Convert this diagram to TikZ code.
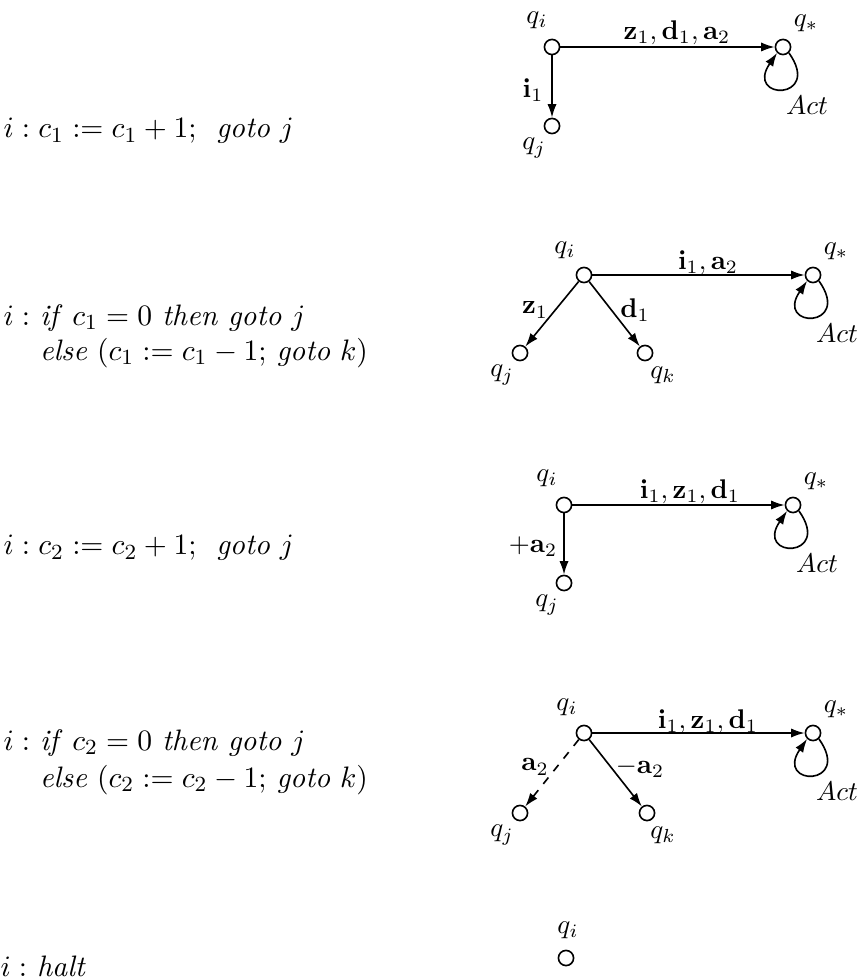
\documentclass[tikz,border=0pt]{standalone}
\usepackage{amsmath}
\usetikzlibrary{arrows.meta}
\begin{document}
\begin{tikzpicture}[x=0.37pt,y=-0.37pt,
  st/.style={circle,draw,line width=0.6pt,minimum size=5.6pt,inner sep=0pt},
  lab/.style={inner sep=0pt},
  tr/.style={line width=0.6pt,-{Latex[length=5pt,width=3.4pt]}},
  txt/.style={inner sep=0pt,anchor=west,font=\fontsize{10.95}{13.6}\selectfont}
]
\useasboundingbox (0,0) rectangle (860,978);

% ---------- row 1 ----------
\node[txt] (t1) at (3,131) {$i : c_1 := c_1 + 1;$~~\textit{goto}~$j$};
\node[st] (a1) at (552,47) {};
\node[st] (b1) at (552,126) {};
\node[st] (s1) at (783,47) {};
\node[lab] (la1) at (537,20) {$q_i$};
\node[lab] (lb1) at (534,148) {$q_j$};
\node[lab] (ls1) at (806,23) {$q_*$};
\node[lab] (act1) at (807,105) {$Act$};
\node[lab] (e1a) at (677,33) {$\mathbf{z}_1, \mathbf{d}_1, \mathbf{a}_2$};
\node[lab] (e1b) at (533,90) {$\mathbf{i}_1$};
\draw[tr] (a1) -- (s1);
\draw[tr] (a1) -- (b1);
\draw[tr] (s1.-45) .. controls +(34,48) and +(-33,48) .. (s1.-135);

% ---------- row 2 ----------
\node[txt] (t2a) at (3,318) {$i :$ \textit{if} $c_1 = 0$ \textit{then} \textit{goto} $j$};
\node[txt] (t2b) at (3,353) {\phantom{$i :$ }\textit{else} $(c_1 := c_1 - 1;$ \textit{goto} $k)$};
\node[st] (a2) at (584,275) {};
\node[st] (b2) at (520,353) {};
\node[st] (c2) at (645,353) {};
\node[st] (s2) at (813,275) {};
\node[lab] (la2) at (565,250) {$q_i$};
\node[lab] (lb2) at (502,375) {$q_j$};
\node[lab] (lc2) at (663,375) {$q_k$};
\node[lab] (ls2) at (836,251) {$q_*$};
\node[lab] (act2) at (837,333) {$Act$};
\node[lab] (e2a) at (708,263) {$\mathbf{i}_1, \mathbf{a}_2$};
\node[lab] (e2b) at (535,310) {$\mathbf{z}_1$};
\node[lab] (e2c) at (635,310) {$\mathbf{d}_1$};
\draw[tr] (a2) -- (s2);
\draw[tr] (a2) -- (b2);
\draw[tr] (a2) -- (c2);
\draw[tr] (s2.-45) .. controls +(34,48) and +(-33,48) .. (s2.-135);

% ---------- row 3 ----------
\node[txt] (t3) at (3,548) {$i : c_2 := c_2 + 1;$~~\textit{goto}~$j$};
\node[st] (a3) at (564,505) {};
\node[st] (b3) at (564,583) {};
\node[st] (s3) at (793,505) {};
\node[lab] (la3) at (547,478) {$q_i$};
\node[lab] (lb3) at (547,605) {$q_j$};
\node[lab] (ls3) at (816,481) {$q_*$};
\node[lab] (act3) at (817,563) {$Act$};
\node[lab] (e3a) at (690,492) {$\mathbf{i}_1, \mathbf{z}_1, \mathbf{d}_1$};
\node[lab] (e3b) at (533,547) {$+\mathbf{a}_2$};
\draw[tr] (a3) -- (s3);
\draw[tr] (a3) -- (b3);
\draw[tr] (s3.-45) .. controls +(34,48) and +(-33,48) .. (s3.-135);

% ---------- row 4 ----------
\node[txt] (t4a) at (3,743) {$i :$ \textit{if} $c_2 = 0$ \textit{then} \textit{goto} $j$};
\node[txt] (t4b) at (3,780) {\phantom{$i :$ }\textit{else} $(c_2 := c_2 - 1;$ \textit{goto} $k)$};
\node[st] (a4) at (584,733) {};
\node[st] (b4) at (520,813) {};
\node[st] (c4) at (647,813) {};
\node[st] (s4) at (813,733) {};
\node[lab] (la4) at (567,707) {$q_i$};
\node[lab] (lb4) at (502,835) {$q_j$};
\node[lab] (lc4) at (663,835) {$q_k$};
\node[lab] (ls4) at (836,709) {$q_*$};
\node[lab] (act4) at (837,791) {$Act$};
\node[lab] (e4a) at (708,722) {$\mathbf{i}_1, \mathbf{z}_1, \mathbf{d}_1$};
\node[lab] (e4b) at (535,767) {$\mathbf{a}_2$};
\node[lab] (e4c) at (640,768) {$-\mathbf{a}_2$};
\draw[tr] (a4) -- (s4);
\draw[tr,dashed] (a4) -- (b4);
\draw[tr] (a4) -- (c4);
\draw[tr] (s4.-45) .. controls +(34,48) and +(-33,48) .. (s4.-135);

% ---------- row 5 ----------
\node[txt] (t5) at (0,966) {$i :$\ \textit{halt}};
\node[st] (a5) at (566,958) {};
\node[lab] (la5) at (568,930) {$q_i$};
\end{tikzpicture}
\end{document}
